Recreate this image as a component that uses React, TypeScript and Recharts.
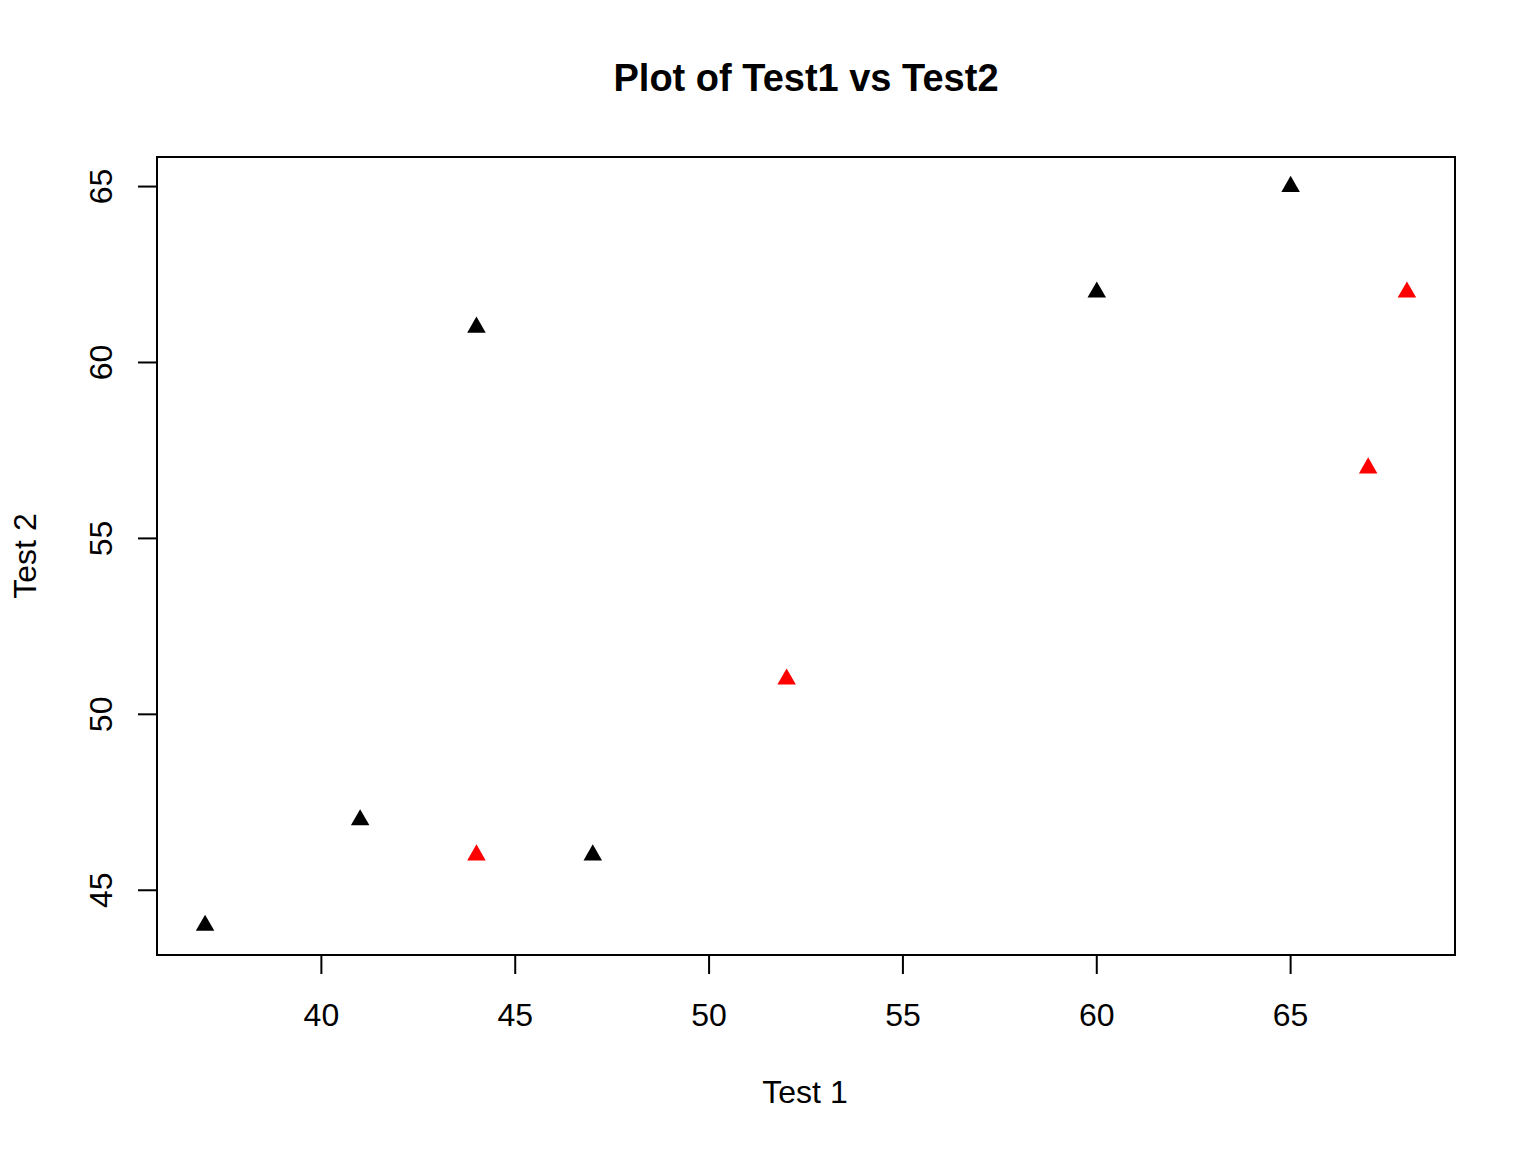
import React from 'react';
import {
  ScatterChart,
  Scatter,
  XAxis,
  YAxis,
  ReferenceArea,
  Customized,
} from 'recharts';

// Test 1 / Test 2 scores, split into two groups by marker colour
const blackTest1 = [37, 41, 44, 47, 60, 65];
const blackTest2 = [44, 47, 61, 46, 62, 65];
const redTest1 = [44, 52, 67, 68];
const redTest2 = [46, 51, 57, 62];

const xTicks = [40, 45, 50, 55, 60, 65];
const yTicks = [45, 50, 55, 60, 65];

const title = 'Plot of Test1 vs Test2';
const xTitle = 'Test 1';
const yTitle = 'Test 2';

// R-style 4% padding on each side of the data range
const pad = (vals: number[]): [number, number] => {
  const lo = Math.min(...vals);
  const hi = Math.max(...vals);
  const d = (hi - lo) * 0.04;
  return [lo - d, hi + d];
};

const xDomain = pad([...blackTest1, ...redTest1]);
const yDomain = pad([...blackTest2, ...redTest2]);

const blackData = blackTest1.map((x, i) => ({ x, y: blackTest2[i] }));
const redData = redTest1.map((x, i) => ({ x, y: redTest2[i] }));

const FONT = '"Liberation Sans", Arial, sans-serif';

// pch = 17 style filled triangle
const Triangle = (props: any) => {
  const { cx, cy, fill } = props;
  const r = 10.7;
  const xc = r * 0.866;
  const pts = `${cx},${cy - r} ${cx + xc},${cy + r / 2} ${cx - xc},${cy + r / 2}`;
  return <polygon points={pts} fill={fill} />;
};

const XTick = (props: any) => {
  const { x, y, payload } = props;
  return (
    <text x={x} y={y} dy="0.71em" textAnchor="middle" fontSize={32} fontFamily={FONT} fill="#000">
      {payload.value}
    </text>
  );
};

const YTick = (props: any) => {
  const { x, y, payload } = props;
  return (
    <text
      x={x}
      y={y}
      textAnchor="middle"
      fontSize={32}
      fontFamily={FONT}
      fill="#000"
      transform={`rotate(-90, ${x}, ${y})`}
    >
      {payload.value}
    </text>
  );
};

const Titles = () => (
  <g fontFamily={FONT} fill="#000">
    <text x={806} y={91} textAnchor="middle" fontSize={38} fontWeight="bold">
      {title}
    </text>
    <text x={805} y={1103} textAnchor="middle" fontSize={32}>
      {xTitle}
    </text>
    <text x={36} y={556} textAnchor="middle" fontSize={32} transform="rotate(-90, 36, 556)">
      {yTitle}
    </text>
  </g>
);

export default function App() {
  return (
    <div style={{ position: 'absolute', left: 0, top: 0, width: 1536, height: 1152, background: '#fff' }}>
      <ScatterChart
        width={1536}
        height={1152}
        margin={{ top: 157, right: 81, bottom: 0, left: 0 }}
      >
        <XAxis
          type="number"
          dataKey="x"
          domain={xDomain}
          ticks={xTicks}
          allowDataOverflow
          axisLine={false}
          tickSize={19}
          tickMargin={29}
          tickLine={{ stroke: '#000', strokeWidth: 2 }}
          tick={<XTick />}
          height={197}
          interval={0}
        />
        <YAxis
          type="number"
          dataKey="y"
          domain={yDomain}
          ticks={yTicks}
          allowDataOverflow
          axisLine={false}
          tickSize={19}
          tickMargin={26}
          tickLine={{ stroke: '#000', strokeWidth: 2 }}
          tick={<YTick />}
          width={157}
          interval={0}
        />
        <ReferenceArea
          x1={xDomain[0]}
          x2={xDomain[1]}
          y1={yDomain[0]}
          y2={yDomain[1]}
          fill="none"
          fillOpacity={0}
          stroke="#000"
          strokeWidth={2}
          strokeOpacity={1}
        />
        <Scatter data={blackData} fill="#000" shape={<Triangle />} isAnimationActive={false} />
        <Scatter data={redData} fill="#ff0000" shape={<Triangle />} isAnimationActive={false} />
        <Customized component={Titles} />
      </ScatterChart>
    </div>
  );
}
